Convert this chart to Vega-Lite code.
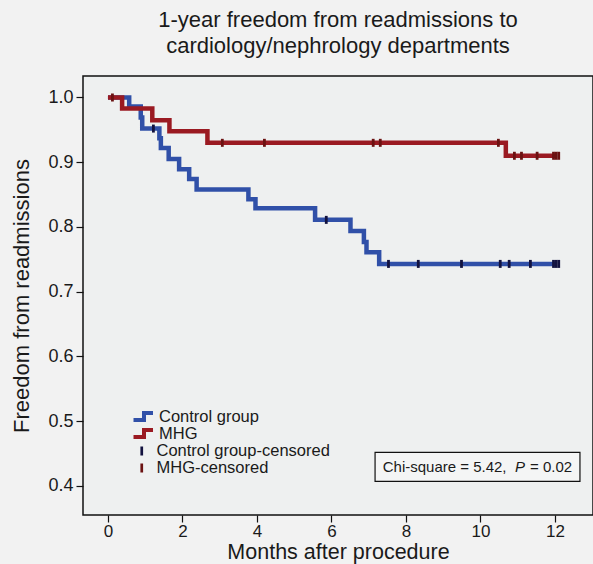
{
  "$schema": "https://vega.github.io/schema/vega-lite/v6.json",
  "width": 510,
  "height": 439,
  "autosize": "none",
  "padding": {"left": 83, "top": 76, "right": 0, "bottom": 49},
  "background": "#f2f2f2",
  "config": {
    "view": {"stroke": "#111111", "strokeWidth": 1.5, "fill": "#eef0f0"},
    "font": "Liberation Sans"
  },
  "title": {
    "text": ["1-year freedom from readmissions to", "cardiology/nephrology departments"],
    "fontSize": 22,
    "fontWeight": "normal",
    "font": "Liberation Sans",
    "color": "#1a1a1a",
    "anchor": "middle",
    "offset": 18,
    "lineHeight": 26
  },
  "datasets": {
    "km": [
      {"group": "Control group", "month": 0, "survival": 1.0},
      {"group": "Control group", "month": 0.57, "survival": 0.986},
      {"group": "Control group", "month": 0.88, "survival": 0.969},
      {"group": "Control group", "month": 0.92, "survival": 0.952},
      {"group": "Control group", "month": 1.38, "survival": 0.937},
      {"group": "Control group", "month": 1.42, "survival": 0.922},
      {"group": "Control group", "month": 1.63, "survival": 0.905},
      {"group": "Control group", "month": 1.91, "survival": 0.889},
      {"group": "Control group", "month": 2.18, "survival": 0.874},
      {"group": "Control group", "month": 2.38, "survival": 0.858},
      {"group": "Control group", "month": 3.77, "survival": 0.843},
      {"group": "Control group", "month": 3.96, "survival": 0.829},
      {"group": "Control group", "month": 5.56, "survival": 0.811},
      {"group": "Control group", "month": 6.51, "survival": 0.794},
      {"group": "Control group", "month": 6.87, "survival": 0.777},
      {"group": "Control group", "month": 6.94, "survival": 0.761},
      {"group": "Control group", "month": 7.28, "survival": 0.743},
      {"group": "Control group", "month": 12.03, "survival": 0.743},
      {"group": "MHG", "month": 0, "survival": 1.0},
      {"group": "MHG", "month": 0.38, "survival": 0.983},
      {"group": "MHG", "month": 1.19, "survival": 0.965},
      {"group": "MHG", "month": 1.65, "survival": 0.948},
      {"group": "MHG", "month": 2.67, "survival": 0.93},
      {"group": "MHG", "month": 10.68, "survival": 0.91},
      {"group": "MHG", "month": 12.03, "survival": 0.91}
    ],
    "cens": [
      {"series": "Control group-censored", "month": 1.22, "survival": 0.952},
      {"series": "Control group-censored", "month": 5.86, "survival": 0.811},
      {"series": "Control group-censored", "month": 7.53, "survival": 0.743},
      {"series": "Control group-censored", "month": 8.33, "survival": 0.743},
      {"series": "Control group-censored", "month": 9.49, "survival": 0.743},
      {"series": "Control group-censored", "month": 10.53, "survival": 0.743},
      {"series": "Control group-censored", "month": 10.77, "survival": 0.743},
      {"series": "Control group-censored", "month": 11.34, "survival": 0.743},
      {"series": "Control group-censored", "month": 11.96, "survival": 0.743},
      {"series": "Control group-censored", "month": 12.03, "survival": 0.743},
      {"series": "Control group-censored", "month": 12.1, "survival": 0.743},
      {"series": "MHG-censored", "month": 0.12, "survival": 1.0},
      {"series": "MHG-censored", "month": 3.07, "survival": 0.93},
      {"series": "MHG-censored", "month": 4.2, "survival": 0.93},
      {"series": "MHG-censored", "month": 7.12, "survival": 0.93},
      {"series": "MHG-censored", "month": 7.31, "survival": 0.93},
      {"series": "MHG-censored", "month": 10.48, "survival": 0.93},
      {"series": "MHG-censored", "month": 10.91, "survival": 0.91},
      {"series": "MHG-censored", "month": 11.1, "survival": 0.91},
      {"series": "MHG-censored", "month": 11.52, "survival": 0.91},
      {"series": "MHG-censored", "month": 11.96, "survival": 0.91},
      {"series": "MHG-censored", "month": 12.03, "survival": 0.91},
      {"series": "MHG-censored", "month": 12.1, "survival": 0.91}
    ]
  },
  "layer": [
    {
      "data": {"name": "km"},
      "mark": {"type": "line", "interpolate": "step-after", "strokeWidth": 4.5, "strokeJoin": "miter", "strokeCap": "butt"},
      "encoding": {
        "x": {
          "field": "month", "type": "quantitative",
          "scale": {"domain": [-0.67, 13.02], "nice": false, "zero": false},
          "axis": {
            "title": "Months after procedure", "values": [0, 2, 4, 6, 8, 10, 12],
            "grid": false, "domain": false, "tickColor": "#111111", "tickSize": 7, "tickWidth": 1.2,
            "labelFontSize": 17, "labelColor": "#1a1a1a", "labelPadding": 1, "labelFont": "Liberation Sans",
            "titleFontSize": 21.5, "titleFontWeight": "normal", "titleColor": "#1a1a1a", "titlePadding": 2, "titleFont": "Liberation Sans"
          }
        },
        "y": {
          "field": "survival", "type": "quantitative",
          "scale": {"domain": [0.3552, 1.0332], "nice": false, "zero": false},
          "axis": {
            "title": "Freedom from readmissions", "values": [0.4, 0.5, 0.6, 0.7, 0.8, 0.9, 1.0], "format": ".1f",
            "grid": false, "domain": false, "tickColor": "#111111", "tickSize": 7, "tickWidth": 1.2,
            "labelFontSize": 18, "labelColor": "#1a1a1a", "labelPadding": 3, "labelFont": "Liberation Sans",
            "titleFontSize": 22, "titleFontWeight": "normal", "titleColor": "#1a1a1a", "titlePadding": 14, "titleFont": "Liberation Sans"
          }
        },
        "color": {
          "field": "group", "type": "nominal",
          "scale": {"domain": ["Control group", "MHG"], "range": ["#3050a8", "#9a1a22"]},
          "legend": {
            "orient": "none", "legendX": 50.5, "legendY": 335, "title": null, "padding": 0,
            "symbolType": "M-1.33,0.47H0.13V-0.47H1.33", "symbolSize": 225, "symbolStrokeWidth": 4,
            "labelFontSize": 16.5, "labelFont": "Liberation Sans", "labelColor": "#1a1a1a", "labelOffset": 6.5,
            "rowPadding": 0, "clipHeight": 11, "labelLimit": 400
          }
        }
      }
    },
    {
      "data": {"name": "cens"},
      "mark": {"type": "point", "shape": "M-0.35,-1H0.35V1H-0.35Z", "filled": true, "size": 64, "opacity": 1, "strokeWidth": 0},
      "encoding": {
        "x": {"field": "month", "type": "quantitative"},
        "y": {"field": "survival", "type": "quantitative"},
        "fill": {
          "field": "series", "type": "nominal",
          "scale": {"domain": ["Control group-censored", "MHG-censored"], "range": ["#12123f", "#6b1212"]},
          "legend": {
            "orient": "none", "legendX": 50.5, "legendY": 367, "title": null, "padding": 0,
            "symbolType": "M-0.18,-0.6H0.18V0.6H-0.18Z", "symbolSize": 225, "symbolStrokeWidth": 0, "symbolOpacity": 1,
            "labelFontSize": 16.5, "labelFont": "Liberation Sans", "labelColor": "#1a1a1a", "labelOffset": 6.5,
            "rowPadding": 0, "clipHeight": 16, "labelLimit": 400
          }
        }
      }
    },
    {
      "data": {"values": [{}]},
      "mark": {"type": "rect", "fill": "#f4f5f5", "stroke": "#111111", "strokeWidth": 1.2},
      "encoding": {
        "x": {"datum": 7.17}, "x2": {"datum": 12.67},
        "y": {"datum": 0.452}, "y2": {"datum": 0.407}
      }
    },
    {
      "data": {"values": [{}]},
      "mark": {"type": "text", "align": "left", "baseline": "middle", "fontSize": 15, "font": "Liberation Sans", "color": "#1a1a1a"},
      "encoding": {"x": {"datum": 7.375}, "y": {"datum": 0.4295}, "text": {"value": "Chi-square = 5.42,"}}
    },
    {
      "data": {"values": [{}]},
      "mark": {"type": "text", "align": "center", "baseline": "middle", "fontSize": 15, "fontStyle": "italic", "font": "Liberation Sans", "color": "#1a1a1a"},
      "encoding": {"x": {"datum": 11.06}, "y": {"datum": 0.4295}, "text": {"value": "P"}}
    },
    {
      "data": {"values": [{}]},
      "mark": {"type": "text", "align": "right", "baseline": "middle", "fontSize": 15, "font": "Liberation Sans", "color": "#1a1a1a"},
      "encoding": {"x": {"datum": 12.46}, "y": {"datum": 0.4295}, "text": {"value": "= 0.02"}}
    }
  ]
}
